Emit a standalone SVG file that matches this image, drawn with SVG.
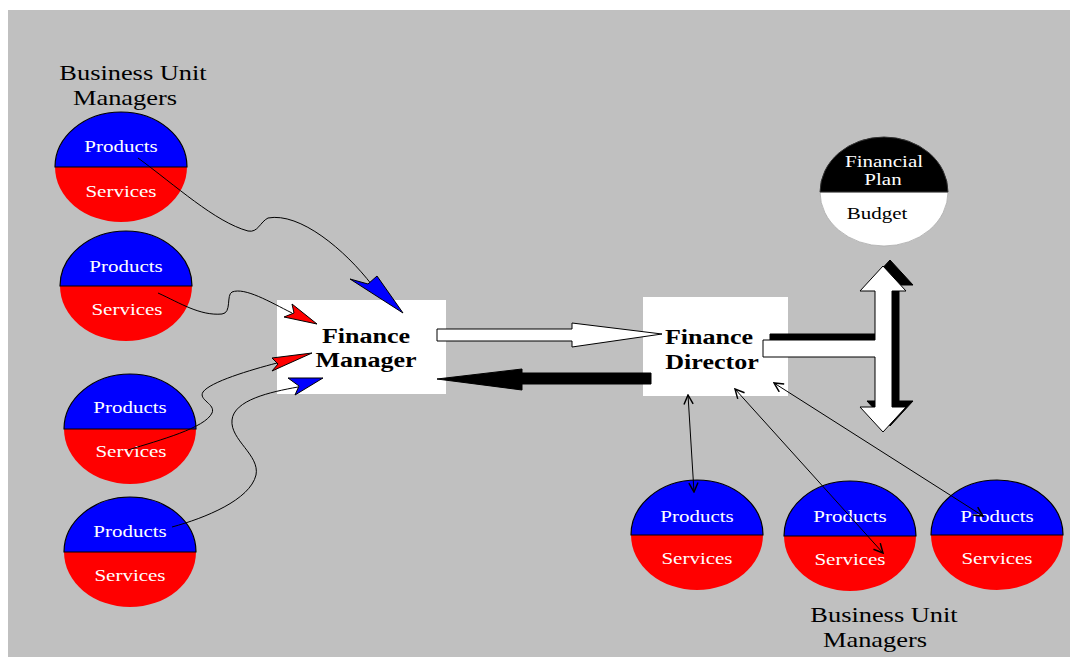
<svg xmlns="http://www.w3.org/2000/svg" width="1072" height="657" viewBox="0 0 1072 657">
  <style>
    .bg { fill: #c0c0c0; }
    .box { fill: #ffffff; }
    .blue { fill: #0000ff; stroke: #000; stroke-width: 1.2; }
    .red { fill: #ff0000; stroke: none; }
    .black { fill: #000; stroke: #333; stroke-width: 1; }
    .white { fill: #fff; stroke: #aaa; stroke-width: 0.8; }
    .divider { stroke: #000; stroke-width: 1.2; }
    text { font-family: "Liberation Serif", "Times New Roman", serif; text-anchor: middle; }
    .in { fill: #fff; font-size: 17.5px; }
    .dark { fill: #000; font-size: 17.5px; }
    .label { fill: #000; font-size: 22px; }
    .title { fill: #000; font-size: 21.7px; font-weight: bold; }
    .wire { fill: none; stroke: #000; stroke-width: 1; }
    .head { stroke: #000; stroke-width: 1; stroke-linejoin: miter; }
    .hblue { fill: #0000ff; }
    .hred { fill: #ff0000; }
    .block-w { fill: #fff; stroke: #000; stroke-width: 1; }
    .block-b { fill: #000; stroke: #000; stroke-width: 1; }
    .link { fill: none; stroke: #000; stroke-width: 1; marker-start: url(#open); marker-end: url(#open); }
  </style>
  <defs>
    <!-- half ellipses shared by every unit node -->
    <path id="upper" d="M-66,0 A66 55 0 0 1 66,0 Z"/>
    <path id="lower" d="M-66,0 A66 55 0 0 0 66,0 Z"/>
    <path id="upperP" d="M-64,0 A64 55 0 0 1 64,0 Z"/>
    <path id="lowerP" d="M-64,0 A64 54 0 0 0 64,0 Z"/>
    <marker id="open" viewBox="0 0 12 12" refX="11" refY="6" markerWidth="11" markerHeight="11" markerUnits="userSpaceOnUse" orient="auto-start-reverse">
      <path d="M1,1 L11,6 L1,11" fill="none" stroke="#000" stroke-width="1.6"/>
    </marker>
  </defs>

  <rect class="bg" x="8" y="10" width="1062" height="647"/>

  <!-- left labels -->
  <g id="label-left">
    <text class="label" transform="translate(133,80) scale(1.2,1)">Business Unit</text>
    <text class="label" transform="translate(125,105) scale(1.2,1)">Managers</text>
  </g>

  <!-- left business units -->
  <g id="unit-l1" transform="translate(121,167)">
    <use href="#lower" class="red"/><use href="#upper" class="blue"/>
    <text class="in" transform="translate(0,-15) scale(1.2,1)">Products</text>
    <text class="in" transform="translate(0,30) scale(1.2,1)">Services</text>
  </g>
  <g id="unit-l2" transform="translate(126,286)">
    <use href="#lower" class="red"/><use href="#upper" class="blue"/>
    <text class="in" transform="translate(0,-14) scale(1.2,1)">Products</text>
    <text class="in" transform="translate(1,29) scale(1.2,1)">Services</text>
  </g>
  <g id="unit-l3" transform="translate(130,429)">
    <use href="#lower" class="red"/><use href="#upper" class="blue"/>
    <text class="in" transform="translate(0,-16) scale(1.2,1)">Products</text>
    <text class="in" transform="translate(1,28) scale(1.2,1)">Services</text>
  </g>
  <g id="unit-l4" transform="translate(130,552)">
    <use href="#lower" class="red"/><use href="#upper" class="blue"/>
    <text class="in" transform="translate(0,-15) scale(1.2,1)">Products</text>
    <text class="in" transform="translate(0,29) scale(1.2,1)">Services</text>
  </g>

  <!-- bottom business units -->
  <g id="unit-b1" transform="translate(697,535)">
    <use href="#lower" class="red"/><use href="#upper" class="blue"/>
    <text class="in" transform="translate(0,-13) scale(1.2,1)">Products</text>
    <text class="in" transform="translate(0,29) scale(1.2,1)">Services</text>
  </g>
  <g id="unit-b2" transform="translate(850,536)">
    <use href="#lower" class="red"/><use href="#upper" class="blue"/>
    <text class="in" transform="translate(0,-14) scale(1.2,1)">Products</text>
    <text class="in" transform="translate(0,29) scale(1.2,1)">Services</text>
  </g>
  <g id="unit-b3" transform="translate(997,535)">
    <use href="#lower" class="red"/><use href="#upper" class="blue"/>
    <text class="in" transform="translate(0,-13) scale(1.2,1)">Products</text>
    <text class="in" transform="translate(0,29) scale(1.2,1)">Services</text>
  </g>

  <g id="label-bottom">
    <text class="label" transform="translate(884,622) scale(1.2,1)">Business Unit</text>
    <text class="label" transform="translate(875,647) scale(1.2,1)">Managers</text>
  </g>

  <!-- plan -->
  <g id="financial-plan" transform="translate(884,192)">
    <use href="#lowerP" class="white"/><use href="#upperP" class="black"/>
    <text class="in" transform="translate(0,-25) scale(1.2,1)">Financial</text>
    <text class="in" transform="translate(-1,-7) scale(1.2,1)">Plan</text>
    <text class="dark" transform="translate(-7,27) scale(1.2,1)">Budget</text>
  </g>

  <!-- finance boxes -->
  <g id="finance-manager">
    <rect class="box" x="277" y="300" width="169" height="94"/>
    <text class="title" transform="translate(366,343) scale(1.2,1)">Finance</text>
    <text class="title" transform="translate(366,367) scale(1.2,1)">Manager</text>
  </g>
  <g id="finance-director">
    <rect class="box" x="643" y="297" width="145" height="99"/>
    <text class="title" transform="translate(709,344) scale(1.2,1)">Finance</text>
    <text class="title" transform="translate(712,369) scale(1.2,1)">Director</text>
  </g>

  <g id="connectors">
    <!-- units to finance manager -->
    <path class="wire" d="M138,158 C175,185 215,222 248,231 C258,233 260,222 268,218 C300,212 345,250 372,285"/>
    <polygon class="head hblue" points="350,279 368,284 377,276 403,313"/>

    <path class="wire" d="M158,293 C180,303 200,316 222,314 C232,313 226,295 232,292 C245,287 270,302 292,313"/>
    <polygon class="head hred" points="292,304 317,324 284,317 294,313"/>

    <path class="wire" d="M128,450 C160,440 205,428 212,413 C216,404 198,400 203,392 C210,382 250,370 277,363"/>
    <polygon class="head hred" points="272,358 312,353 272,371 278,364"/>

    <path class="wire" d="M172,527 C205,518 250,500 256,475 C260,455 230,440 232,420 C234,400 270,392 298,387"/>
    <polygon class="head hblue" points="288,378 323,378 295,395 299,386"/>

    <!-- manager / director exchange -->
    <polygon class="block-w" points="437,329 572,329 572,323 662,334 572,347 572,341 437,341"/>
    <polygon class="block-b" points="651,373 522,373 522,369 437,379 522,390 522,384 651,384"/>

    <!-- director to plan, with drop shadow -->
    <polygon class="block-b" transform="translate(7,-6)" points="763,340 875,340 875,291 860,291 883,266 906,291 892,291 892,407 906,407 883,432 860,407 875,407 875,357 763,357"/>
    <polygon class="block-w" points="763,340 875,340 875,291 860,291 883,266 906,291 892,291 892,407 906,407 883,432 860,407 875,407 875,357 763,357"/>

    <!-- director to bottom units -->
    <path class="link" d="M688,395 L694,492"/>
    <path class="link" d="M735,389 L883,553"/>
    <path class="link" d="M774,383 L983,516"/>
  </g>
</svg>
